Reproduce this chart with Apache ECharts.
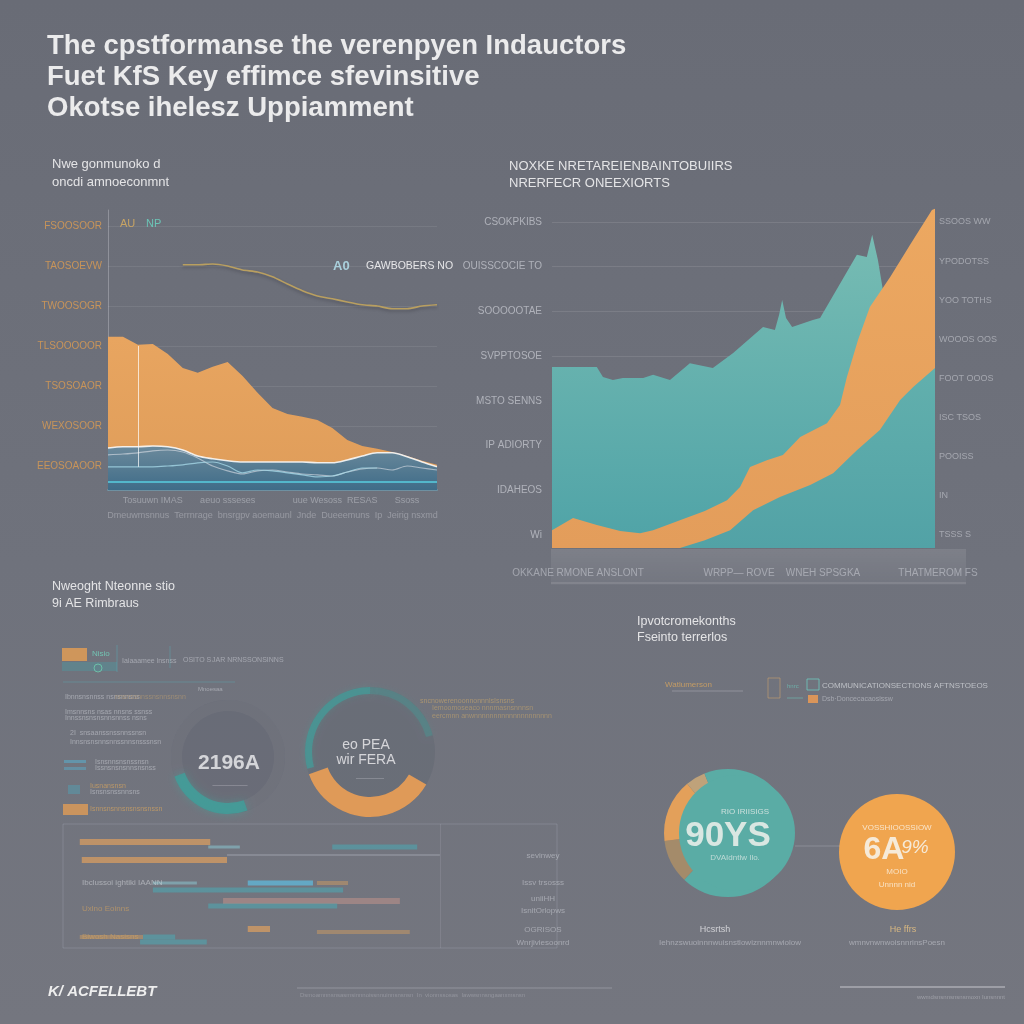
<!DOCTYPE html>
<html><head><meta charset="utf-8">
<script src="https://cdn.jsdelivr.net/npm/echarts@6/dist/echarts.min.js"></script>
<style>html,body{margin:0;padding:0;background:#6e717b}#c{width:1024px;height:1024px;background:linear-gradient(180deg,#696c76 0%,#6f727c 55%,#74767f 100%)}</style>
</head><body><div id="c"></div>
<script>
// ---------- DATA ----------
const titleLines = ['The cpstformanse the verenpyen Indauctors','Fuet KfS Key effimce sfevinsitive','Okotse ihelesz Uppiamment'];
const leftTitle = ['Nwe gonmunoko d','oncdi amnoeconmnt'];
const rightTitle = ['NOXKE NRETAREIENBAINTOBUIIRS','NRERFECR ONEEXIORTS'];
const blTitle = ['Nweoght Nteonne stio','9i AE Rimbraus'];
const brTitle = ['Ipvotcromekonths','Fseinto terrerlos'];

// left area chart (23 samples)
const leftCats = ['','','','Tosuuwn IMAS','','','','','aeuo ssseses','','','','','','uue Wesoss','','','RESAS','','','Ssoss','',''];
const leftXName = 'Dmeuwmsnnus  Terrnrage  bnsrgpv aoemaunl  Jnde  Dueeemuns  Ip  Jeirig nsxmd';
const leftYLabels = ['FSOOSOOR','TAOSOEVW','TWOOSOGR','TLSOOOOOR','TSOSOAOR','WEXOSOOR','EEOSOAOOR'];
const leftOrange = [3.83,3.83,3.63,3.65,3.4,3.05,2.93,3.08,3.2,2.85,2.43,2.05,1.9,1.83,1.75,1.55,1.25,1.1,1.03,0.95,0.85,0.73,0.63];
const leftBlue   = [1.05,1.08,1.08,1.1,1.08,1.0,0.85,0.78,0.73,0.7,0.7,0.7,0.7,0.7,0.68,0.68,0.75,0.85,0.93,0.93,0.83,0.7,0.58];
const leftLineB  = [0.88,0.9,0.93,0.98,1.0,0.95,0.8,0.6,0.48,0.4,0.48,0.5,0.45,0.4,0.38,0.35,0.45,0.53,0.55,0.5,0.6,0.55,0.5];
const leftLineC  = [0.58,0.58,0.58,0.58,0.6,0.63,0.68,0.7,0.6,0.43,0.5,0.48,0.43,0.38,0.33,0.35,0.45,0.55,0.55,null,null,null,null];
const leftTrend  = [null,null,null,null,null,5.63,5.63,5.65,5.6,5.5,5.45,5.33,5.15,4.98,4.85,4.78,4.7,4.63,4.6,4.53,4.53,4.6,4.63];
const leftBase = 0.2;
const leftLegend = ['AU','NP'];
const leftNote = ['A0','GAWBOBERS NO'];

// right area chart ([x, value])
const rightYLabelsL = ['CSOKPKIBS','OUISSCOCIE TO','SOOOOOTAE','SVPPTOSOE','MSTO SENNS','IP ADIORTY','IDAHEOS','Wi'];
const rightYLabelsR = ['SSOOS WW','YPODOTSS','YOO TOTHS','WOOOS OOS','FOOT OOOS','ISC TSOS','POOISS','IN','TSSS S'];
const rightXLabels = ['OKKANE RMONE ANSLONT','WRPP\u2014 ROVE','WNEH SPSGKA','THATMEROM FS'];
const rightTeal = [[0,4.16],[7.3,4.16],[11.7,4.16],[13.3,3.93],[15.9,3.86],[18.5,3.91],[23.8,3.91],[26.4,3.98],[30.8,3.86],[36,4.25],[42,4.14],[47.3,4.48],[55.1,5.08],[58.2,5.01],[59.3,5.36],[60.1,5.7],[61.1,5.29],[62.7,5.08],[68.1,5.24],[70,5.29],[79.6,6.74],[82.2,6.69],[83.6,7.2],[85.1,6.62],[86.4,5.93],[90.9,5.0],[100,4.3]];
const rightOrange = [[0,0.41],[5.5,0.69],[11.7,0.53],[17.8,0.39],[23,0.34],[26.4,0.41],[33.4,0.64],[39.9,0.85],[45.7,1.1],[49.1,1.4],[51.7,1.86],[56.1,2.02],[60.3,2.14],[64.8,2.55],[71.8,2.87],[75.2,3.29],[77,3.93],[79.9,4.78],[83,5.54],[88.3,6.23],[93.5,6.97],[99.2,7.77],[100,7.8]];
const rightFront = [[0,0],[33.4,0],[39.9,0.18],[46.5,0.41],[52.5,0.87],[59.5,1.17],[67.4,1.45],[73.4,1.72],[79.6,2.25],[85.6,2.71],[90.9,3.4],[94.3,3.7],[100,4.14]];

// bottom-left rings
const ringLeft = [160, 90, 110];          // faint, teal, faint
const ringRightOrange = [120, 130, 110];  // gap, orange, gap
const ringRightTeal = [75, 180, 105];     // teal(faint), gap, teal
const ringLeftText = '2196A';
const ringRightText = ['eo PEA','wir FERA'];
// bottom-left bar panel: [start, end, row, colourIndex]
const panelBars = [[3.4,29.8,1.8,0],[29.4,35.8,2.3,1],[54.5,71.7,2.3,2],[3.8,33.2,3.6,0],[33.2,76.3,3.1,3],
  [18.2,27.1,5.9,1],[37.4,50.6,5.9,4],[51.4,57.7,5.9,5],[18.2,56.7,6.6,2],[32.4,68.2,7.7,6],[29.4,55.5,8.2,2],
  [37.4,41.9,10.5,0],[51.4,70.2,10.8,5],[16.2,22.7,11.3,2],[15.6,29.1,11.8,2],[3.4,16.2,11.3,5]];
const panelLabels = ['sevinwey','Issv trsosss','uniiHH','IsnitOrlopws','OGRISOS','Wnrjiviesoonrd'];
const panelRowText = ['Ibclussoi ightiki IAANN','Uxlno Eoinns','Blwosh Nasisns'];
// bottom-right pies
const brPie = [62, 11, 16, 5, 6];  // teal, brown, orange, tan, teal
const brTealText = ['RIO IRIISIGS','90YS','DVAIdntlw Ilo.'];
const brOrangeText = ['VOSSHIOOSSIOW','6A','9%','MOIO','Unnnn nid'];
const brCaptions = [['Hcsrtsh','Iehnzswuoinnnwuisnstlowiznnmnwiolow'],['He ffrs','wmnvnwnwoisnnrinsPoesn']];
const footer = 'K/ ACFELLEBT';

// ---------- STYLE HELPERS ----------
const LG = (c0,c1)=>new echarts.graphic.LinearGradient(0,0,0,1,[{offset:0,color:c0},{offset:1,color:c1}]);
const FN = '"Liberation Sans Narrow","Liberation Sans",sans-serif';
function T(text,x,y,size,fill,o={}){
  return {type:'text',x,y,z:100,silent:true,style:{text,fill,
    font:(o.style||'')+' '+(o.weight||'normal')+' '+size+'px '+(o.family||FN),
    textAlign:o.align||'left',textVerticalAlign:'middle',opacity:o.opacity==null?1:o.opacity}};
}
function R(x,y,w,h,fill,o={}){return {type:'rect',z:o.z||50,silent:true,shape:{x,y,width:w,height:h},style:{fill,stroke:o.stroke||null,lineWidth:o.lw||1,opacity:o.opacity==null?1:o.opacity}};}
function L(x1,y1,x2,y2,stroke,w){return {type:'line',z:50,silent:true,shape:{x1,y1,x2,y2},style:{stroke,lineWidth:w||1}};}

const panelColors = ['rgba(222,160,95,0.7)','rgba(140,205,215,0.5)','rgba(75,170,180,0.55)','rgba(200,205,215,0.25)','rgba(95,185,220,0.75)','rgba(215,160,95,0.45)','rgba(200,150,140,0.5)'];
const panelThick = [6,3,5,2,5,4,6];

const faint = 'rgba(225,227,232,0.45)';
const gfx = [];
// titles
titleLines.forEach((t,i)=>gfx.push(T(t,47,46+i*31,27.5,'#ebebec',{weight:'bold',family:'"Liberation Sans",Arial,sans-serif'})));
leftTitle.forEach((t,i)=>gfx.push(T(t,52,164+i*18,13,'#e4e4e6')));
rightTitle.forEach((t,i)=>gfx.push(T(t,509,166+i*17,13,'#e4e4e6')));
blTitle.forEach((t,i)=>gfx.push(T(t,52,587+i*17,12.5,'#e4e4e6')));
brTitle.forEach((t,i)=>gfx.push(T(t,637,622+i*16,12.5,'#e4e4e6')));
// left chart legend / note
gfx.push(T(leftLegend[0],120,224,11,'#c8a464'),T(leftLegend[1],146,224,11,'#6cc4b6'));
gfx.push(T(leftNote[0],333,266,13,'#a9d0dc',{weight:'bold'}),T(leftNote[1],366,266,10.5,'#e6e6e8'));
// right chart bottom band + x labels
gfx.push(R(551,549,415,36,LG('rgba(255,255,255,0.10)','rgba(255,255,255,0.03)'),{z:1}));
gfx.push(L(551,583,966,583,'rgba(255,255,255,0.10)',2));
const rxPos=[578,739,823,938];
rightXLabels.forEach((t,i)=>gfx.push(T(t,rxPos[i],573,10,faint,{align:'center'})));
// bottom-left left column decorations
gfx.push(R(62,648,25,13,'#d99a58',{opacity:0.9}),R(62,662,55,9,'rgba(70,160,170,0.35)'),
  T('Nisio',92,654,8,'#72c2b2'),{type:'circle',z:50,silent:true,shape:{cx:98,cy:668,r:4},style:{fill:'none',stroke:'#6dbfa8',lineWidth:1}},
  L(117,645,117,672,'rgba(90,170,180,0.5)'),T('Iaiaaamee lnsnss',122,661,7,faint),L(170,646,170,668,'rgba(90,170,180,0.45)'),
  T('OSITO S',183,660,7,faint),T('JAR NRNSSONSINNS',212,660,7,faint),
  L(63,682,235,682,'rgba(90,170,180,0.4)'),T('Mnoesaa',198,689,6,faint),
  T('Ibnnsnsnnss nsnsnnsns',65,697,7,faint),T('nnsnssnnssnsnnsnsnn',115,697,7,'rgba(210,170,110,0.45)'),
  T('Imsnnsns nsas nnsns ssnss',65,712,7,faint),T('Innssnsnsnsnnsnnss nsns',65,718,7,faint),
  T('2I  snsaanssnssnnssnsn',70,733,7,faint),T('Innsnsnsnnsnnssnnsnsssnsn',70,742,7,faint),
  R(64,760,22,3,'rgba(90,170,200,0.6)'),T('Isnsnnsnsnssnsn',95,762,7,faint),R(64,767,22,3,'rgba(90,170,200,0.5)'),T('Issnsnsnsnnsnsnss',95,768,7,faint),
  R(68,785,12,9,'rgba(80,165,185,0.45)'),T('Iusnansnsn',90,786,7,'rgba(215,165,95,0.7)'),T('Isnsnsnssnnsns',90,792,7,faint),
  R(63,804,25,11,'#d99a58',{opacity:0.85}),T('Isnnsnsnnsnsnsnsnssn',90,809,7,'rgba(215,165,95,0.7)'));
// faint text right of ring
gfx.push(T('sncnowerenoonnonnnlsIsnsns',420,701,7,'rgba(215,175,105,0.55)'),T('Iemoomoseaco nnnmasnsnnnsn',432,708,7,'rgba(215,175,105,0.5)'),T('eercmnn anwnnnnnnnnnnnnnnnnnnnn',432,716,7,'rgba(215,175,105,0.5)'));
// ring centre texts
gfx.push(T(ringLeftText,229,763,21,'rgba(232,232,234,0.85)',{weight:'bold',align:'center'}),T('\u2014\u2014\u2014\u2014\u2014',230,785,7,faint,{align:'center'}));
gfx.push(T(ringRightText[0],366,745,14,'rgba(232,232,234,0.85)',{align:'center'}),T(ringRightText[1],366,760,14,'rgba(232,232,234,0.85)',{align:'center'}),T('\u2014\u2014\u2014\u2014',370,778,7,faint,{align:'center'}));
// panel texts
const plY=[856,883,899,911,930,943];
panelLabels.forEach((t,i)=>gfx.push(T(t,543,plY[i],8,faint,{align:'center'})));
gfx.push(T(panelRowText[0],82,883,8,'rgba(225,227,232,0.5)'),T(panelRowText[1],82,909,8,'rgba(215,165,95,0.6)'),T(panelRowText[2],82,937,8,'rgba(215,165,95,0.55)'));
// bottom-right legend row
gfx.push(T('Watlumerson',665,685,8,'rgba(215,165,95,0.8)'),L(672,691,743,691,'rgba(220,220,225,0.3)'),
  R(768,678,12,20,'none',{stroke:'rgba(200,160,110,0.6)'}),T('hnrc',787,686,6,'rgba(110,190,180,0.8)'),
  R(807,679,12,11,'none',{stroke:'rgba(110,200,190,0.8)'}),T('COMMUNICATIONSECTIONS AFTNSTOEOS',822,686,8,'rgba(215,217,222,0.75)'),
  L(787,698,803,698,'rgba(110,190,180,0.6)'),R(808,695,10,8,'#d9955a'),T('Dsb\u00b7Doncecacaosissw',822,699,7,faint));
// circle texts
gfx.push(T(brTealText[0],745,812,8,'rgba(230,236,234,0.8)',{align:'center'}),T(brTealText[1],728,836,35,'#d9e7e2',{weight:'bold',align:'center'}),T(brTealText[2],735,858,8,'rgba(230,236,234,0.7)',{align:'center'}));
gfx.push(T(brOrangeText[0],897,828,8,'rgba(250,240,225,0.85)',{align:'center'}),T(brOrangeText[1],884,850,32,'#f6ead8',{weight:'bold',align:'center'}),T(brOrangeText[2],915,848,19,'#f6ead8',{style:'italic',align:'center'}),T(brOrangeText[3],897,872,8,'rgba(250,240,225,0.8)',{align:'center'}),T(brOrangeText[4],897,885,8,'rgba(250,240,225,0.8)',{align:'center'}));
gfx.push(L(795,846,840,846,'rgba(220,220,225,0.25)'));
gfx.push(T(brCaptions[0][0],715,930,9,'rgba(230,230,234,0.8)',{align:'center'}),T(brCaptions[0][1],730,943,8,faint,{align:'center'}));
gfx.push(T(brCaptions[1][0],903,930,9,'rgba(225,190,130,0.9)',{align:'center'}),T(brCaptions[1][1],897,943,8,faint,{align:'center'}));
// footer
gfx.push(T(footer,48,992,15,'#eeeeee',{weight:'bold',style:'italic'}));
gfx.push(L(297,988,612,988,'rgba(220,220,225,0.3)'),T('Dsmoamnnsnsasmsinnnoissnnuinnsnsnsn  In  vionnssosas  Iawwsnnsngaanxmsnsn',300,995,6,'rgba(220,220,225,0.3)'));
gfx.push(L(840,987,1005,987,'rgba(220,220,225,0.4)',2),T('wwmdsnsnnsnsnsmoxn Iunsnnnt',1005,997,6,'rgba(220,220,225,0.4)',{align:'right'}));

const noLbl = {show:false};
const pieBase = {type:'pie',silent:true,label:noLbl,labelLine:{show:false},emphasis:{disabled:true},animation:false,clockwise:true,startAngle:90};

const option = {
  animation:false,
  backgroundColor:'transparent',
  grid:[
    {left:108,top:210,width:329,height:280},
    {left:108,top:226,width:329,height:240},
    {left:552,top:200,width:383,height:348},
    {left:552,top:222,width:383,height:313},
    {left:63,top:824,width:494,height:124,show:true,borderColor:'rgba(220,225,235,0.16)',borderWidth:1}
  ],
  xAxis:[
    {gridIndex:0,type:'category',data:leftCats,boundaryGap:false,axisTick:{show:false},
     axisLine:{lineStyle:{color:'rgba(110,175,200,0.5)',width:2}},
     axisLabel:{interval:0,color:'rgba(225,227,232,0.4)',fontSize:9,fontFamily:FN,margin:6},
     name:leftXName,nameLocation:'middle',nameGap:21,nameTextStyle:{color:'rgba(225,227,232,0.35)',fontSize:9,fontFamily:FN}},
    {gridIndex:1,type:'value',show:false,min:0,max:1},
    {gridIndex:2,type:'value',show:false,min:0,max:100},
    {gridIndex:3,type:'value',show:false,min:0,max:1},
    {gridIndex:4,type:'value',show:false,min:0,max:100}
  ],
  yAxis:[
    {gridIndex:0,type:'value',min:0,max:7,axisLabel:noLbl,splitLine:noLbl,axisTick:noLbl,axisLine:{show:true,lineStyle:{color:'rgba(230,230,235,0.3)'}}},
    {gridIndex:1,type:'value',min:0,max:6,interval:1,axisLine:noLbl,axisTick:noLbl,
     axisLabel:{color:'#c89459',fontSize:10,fontFamily:FN,margin:6,formatter:v=>leftYLabels[6-v]},
     splitLine:{lineStyle:{color:'rgba(255,255,255,0.08)'}}},
    {gridIndex:2,type:'value',show:false,min:0,max:8},
    {gridIndex:3,type:'value',position:'left',min:0,max:7,interval:1,axisLine:noLbl,axisTick:noLbl,
     axisLabel:{color:'rgba(220,222,228,0.6)',fontSize:10,fontFamily:FN,margin:10,formatter:v=>rightYLabelsL[7-v]},
     splitLine:{lineStyle:{color:'rgba(255,255,255,0.1)'}}},
    {gridIndex:3,type:'value',position:'right',min:0,max:8,interval:1,axisLine:noLbl,axisTick:noLbl,splitLine:noLbl,
     axisLabel:{color:'rgba(220,222,228,0.5)',fontSize:9,fontFamily:FN,margin:4,formatter:v=>rightYLabelsR[8-v]}},
    {gridIndex:4,type:'value',show:false,min:0,max:12.4,inverse:true}
  ],
  graphic:{elements:gfx},
  series:[
    {type:'line',xAxisIndex:0,yAxisIndex:0,data:leftOrange,symbol:'none',lineStyle:{width:0},z:2,
     areaStyle:{color:LG('#e8a560','#df9d5a'),opacity:1},
     markLine:{silent:true,symbol:'none',label:noLbl,lineStyle:{color:'rgba(255,255,255,0.7)',type:'solid',width:1},
       data:[[{coord:[2,3.6]},{coord:[2,0.58]}]]}},
    {type:'line',xAxisIndex:0,yAxisIndex:0,data:leftBlue,symbol:'none',smooth:0.3,z:3,
     lineStyle:{color:'rgba(255,255,255,0.85)',width:1.6},
     areaStyle:{color:LG('#6c8a9c','#3f6c88'),opacity:1},
     markLine:{silent:true,symbol:'none',label:noLbl,lineStyle:{color:'#53b7cb',type:'solid',width:2},data:[{yAxis:leftBase}]}},
    {type:'line',xAxisIndex:0,yAxisIndex:0,data:leftLineB,symbol:'none',smooth:0.3,z:4,lineStyle:{color:'rgba(235,235,240,0.55)',width:1.2}},
    {type:'line',xAxisIndex:0,yAxisIndex:0,data:leftLineC,symbol:'none',smooth:0.3,z:4,lineStyle:{color:'rgba(170,220,235,0.75)',width:1.2}},
    {type:'line',xAxisIndex:0,yAxisIndex:0,data:leftTrend,symbol:'none',smooth:0.2,z:4,
     lineStyle:{color:'#b99f60',width:1.6,shadowColor:'rgba(60,60,70,0.5)',shadowBlur:3,shadowOffsetY:2}},
    {type:'line',xAxisIndex:2,yAxisIndex:2,data:rightTeal,symbol:'none',lineStyle:{width:0},z:2,
     areaStyle:{color:LG('#77bcb3','#4fa3a7'),opacity:1}},
    {type:'line',xAxisIndex:2,yAxisIndex:2,data:rightOrange,symbol:'none',lineStyle:{width:0},z:3,
     areaStyle:{color:LG('#eca861','#e39d5b'),opacity:1}},
    {type:'line',xAxisIndex:2,yAxisIndex:2,data:rightFront,symbol:'none',lineStyle:{width:0},z:4,
     areaStyle:{color:LG('#62b0ad','#52a2a6'),opacity:1}},
    {type:'custom',xAxisIndex:4,yAxisIndex:5,data:panelBars,silent:true,z:3,
     renderItem:(p,api)=>{const a=api.coord([api.value(0),api.value(2)]),b=api.coord([api.value(1),api.value(2)]);const k=api.value(3);const h=panelThick[k];
       return {type:'rect',shape:{x:a[0],y:a[1]-h/2,width:b[0]-a[0],height:h},style:{fill:panelColors[k]}};},
     markLine:{silent:true,symbol:'none',label:noLbl,lineStyle:{color:'rgba(220,225,235,0.12)',type:'solid'},data:[{xAxis:76.3}]}},
    // bottom-left rings
    Object.assign({},pieBase,{center:[228,757],radius:[0,57],data:[{value:1,itemStyle:{color:'rgba(85,90,105,0.28)'}}]}),
    Object.assign({},pieBase,{center:[228,757],radius:[46,57],
      data:ringLeft.map((v,i)=>({value:v,itemStyle:{color:i===1?'rgba(60,165,160,0.7)':'rgba(255,255,255,0.04)',shadowBlur:i===1?8:0,shadowColor:'rgba(60,170,160,0.6)'}}))}),
    Object.assign({},pieBase,{center:[370,752],radius:[0,65],data:[{value:1,itemStyle:{color:'rgba(85,90,105,0.25)'}}]}),
    Object.assign({},pieBase,{center:[370,752],radius:[58,65],
      data:ringRightTeal.map((v,i)=>({value:v,itemStyle:{color:i===0?'rgba(60,165,160,0.3)':(i===2?'rgba(60,165,160,0.6)':'rgba(0,0,0,0)'),shadowBlur:6,shadowColor:'rgba(60,170,160,0.4)'}}))}),
    Object.assign({},pieBase,{center:[370,752],radius:[45,65],
      data:ringRightOrange.map((v,i)=>({value:v,itemStyle:{color:i===1?'#df9a58':'rgba(0,0,0,0)'}}))}),
    // bottom-right circles
    Object.assign({},pieBase,{center:[728,833],radius:[0,64],
      data:brPie.map((v,i)=>({value:v,itemStyle:{color:['#5aaca5','#a48b6a','#e3a05a','#bfa27a','#5aaca5'][i]}}))}),
    Object.assign({},pieBase,{center:[737,833],radius:[0,58],data:[{value:1,itemStyle:{color:'#5aaca5'}}]}),
    Object.assign({},pieBase,{center:[897,852],radius:[0,58],data:[{value:1,itemStyle:{color:'#f0a54f'}}]})
  ]
};
const chart = echarts.init(document.getElementById('c'),null,{width:1024,height:1024});
chart.setOption(option);
</script></body></html>
